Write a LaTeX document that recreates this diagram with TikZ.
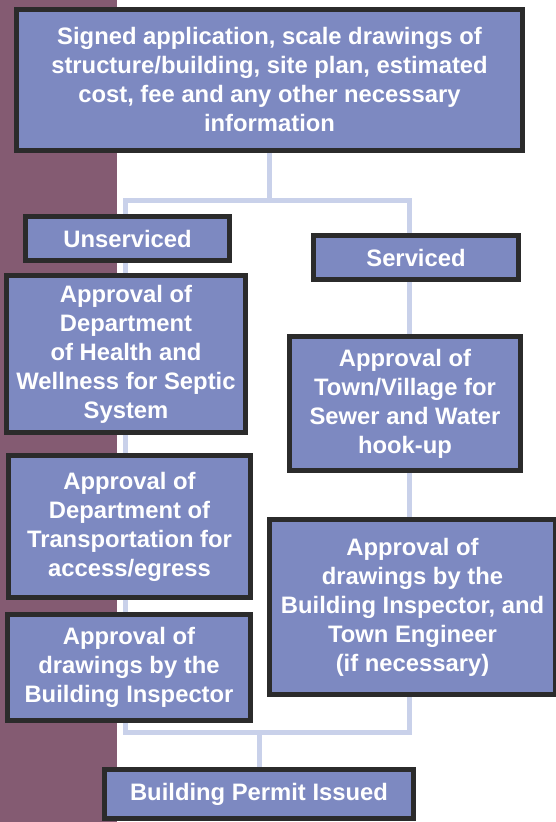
\documentclass[tikz,border=0pt]{standalone}
\usepackage{fontspec}
\setmainfont{Liberation Sans}
\usetikzlibrary{backgrounds}

\definecolor{boxfill}{HTML}{7D89C1}
\definecolor{boxline}{HTML}{2B2B2B}
\definecolor{linkcol}{HTML}{C9D1EA}
\definecolor{stripcol}{HTML}{845B72}

\begin{document}
\begin{tikzpicture}[x=1pt, y=-1pt,
    box/.style={draw=boxline, line width=5pt, fill=boxfill, text=white,
        font=\fontsize{23.8}{29}\selectfont\bfseries, align=center, inner sep=0pt},
    link/.style={draw=linkcol, line width=5pt}]
    \useasboundingbox (0,0) rectangle (556,822);

    \node[box, minimum width=506pt, minimum height=141pt] (apply) at (269.5,79.5)
        {Signed application, scale drawings of\\structure/building, site plan, estimated\\cost, fee and any other necessary\\information};

    % unserviced side
    \node[box, minimum width=204pt, minimum height=44pt] (unserv) at (127.5,238.5) {Unserviced};
    \node[box, minimum width=239pt, minimum height=157pt] (health) at (126,354)
        {Approval of\\Department\\of Health and\\Wellness for Septic\\System};
    \node[box, minimum width=242pt, minimum height=142pt] (transp) at (129.5,526.5)
        {Approval of\\Department of\\Transportation for\\access/egress};
    \node[box, minimum width=243pt, minimum height=106pt] (insp) at (129,667.5)
        {Approval of\\drawings by the\\Building Inspector};

    % serviced side
    \node[box, minimum width=205pt, minimum height=44pt] (serv) at (416,257.5) {Serviced};
    \node[box, minimum width=231pt, minimum height=134pt] (town) at (405,403.5)
        {Approval of\\Town/Village for\\Sewer and Water\\hook-up};
    \node[box, minimum width=286pt, minimum height=175pt] (engin) at (412.5,607)
        {Approval of\\drawings by the\\Building Inspector, and\\Town Engineer\\(if necessary)};

    \node[box, minimum width=309pt, minimum height=49pt] (permit) at (259,794) {Building Permit Issued};

    \coordinate (fork) at (269.5,200);
    \coordinate (forkL) at (125,200);
    \coordinate (forkR) at (409,200);
    \coordinate (joinL) at (125,732);
    \coordinate (joinR) at (409,732);
    \coordinate (join) at (259,732);

    \begin{scope}[on background layer]
        \fill[stripcol] (0,0) rectangle (117,822);

        \draw[link] (apply.south) -- (fork);
        \draw[link] (unserv.north -| forkL) -- (forkL) -- (forkR) -- (serv.north -| forkR);
        \draw[link] (unserv.south -| forkL) -- (health.north -| forkL);
        \draw[link] (health.south -| forkL) -- (transp.north -| forkL);
        \draw[link] (transp.south -| forkL) -- (insp.north -| forkL);
        \draw[link] (serv.south -| forkR) -- (town.north -| forkR);
        \draw[link] (town.south -| forkR) -- (engin.north -| forkR);
        \draw[link] (insp.south -| joinL) -- (joinL) -- (joinR) -- (engin.south -| joinR);
        \draw[link] (join) -- (permit.north);
    \end{scope}
\end{tikzpicture}
\end{document}
